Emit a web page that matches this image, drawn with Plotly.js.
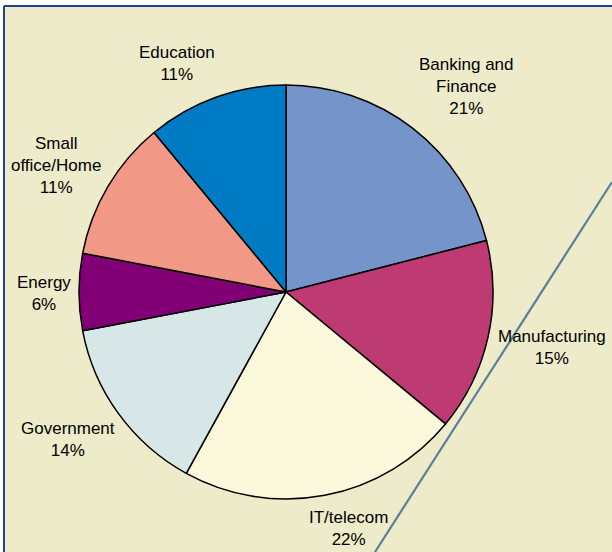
<!DOCTYPE html>
<html>
<head>
<meta charset="utf-8">
<script src="https://cdn.plot.ly/plotly-3.0.1.min.js"></script>
<style>html,body{margin:0;padding:0;background:#fff;}#chart{width:612px;height:552px;}</style>
</head>
<body>
<div id="chart"></div>
<script>
// Data
var sectors = ["Banking and<br>Finance", "Manufacturing", "IT/telecom", "Government", "Energy", "Small<br>office/Home", "Education"];
var shares = [21, 15, 22, 14, 6, 11, 11];
var sliceColors = ["#7595CA", "#BD3A73", "#FCF8DC", "#D7E7E8", "#820076", "#F29886", "#007AC3"];

var W = 612, H = 552;
var cx = 286, cy = 292, r = 207;

// label placement (pixel centres) for the outside labels
var labelPos = [[466, 86], [552, 347], [348, 528], [68, 439], [44, 293], [56, 165], [177, 64]];

var font = {family: "Liberation Sans, Arial, sans-serif", size: 17, color: "#000000"};

var trace = {
  type: "pie",
  labels: sectors,
  values: shares,
  sort: false,
  direction: "clockwise",
  rotation: 0,
  marker: {colors: sliceColors, line: {color: "#000000", width: 1.5}},
  textinfo: "none",
  hoverinfo: "label+percent",
  domain: {x: [(cx - r) / W, (cx + r) / W], y: [1 - (cy + r) / H, 1 - (cy - r) / H]}
};

var annotations = sectors.map(function (s, i) {
  return {
    xref: "paper", yref: "paper",
    x: labelPos[i][0] / W, y: 1 - labelPos[i][1] / H,
    xanchor: "center", yanchor: "middle",
    text: s + "<br>" + shares[i] + "%",
    showarrow: false, align: "center", font: font
  };
});

var layout = {
  width: W, height: H,
  margin: {l: 0, r: 0, t: 0, b: 0},
  paper_bgcolor: "#ffffff",
  showlegend: false,
  annotations: annotations,
  shapes: [
    {type: "rect", xref: "paper", yref: "paper", x0: 4 / W, x1: 1.01, y0: -0.01, y1: 1 - 6 / H,
     fillcolor: "#EDEBCA", line: {width: 0}, layer: "below"},
    {type: "line", xref: "paper", yref: "paper", x0: 4 / W, x1: 4 / W, y0: -0.01, y1: 1 - 6 / H,
     line: {color: "#1F3F95", width: 2}, layer: "below"},
    {type: "line", xref: "paper", yref: "paper", x0: 4 / W, x1: 1.01, y0: 1 - 6 / H, y1: 1 - 6 / H,
     line: {color: "#1F3F95", width: 2}, layer: "below"},
    {type: "line", xref: "paper", yref: "paper", x0: 375 / W, y0: 0, x1: 612 / W, y1: 1 - 182 / H,
     line: {color: "#5B7F9B", width: 2.2}, layer: "below"}
  ]
};

Plotly.newPlot("chart", [trace], layout, {displayModeBar: false, staticPlot: true});
</script>
</body>
</html>
